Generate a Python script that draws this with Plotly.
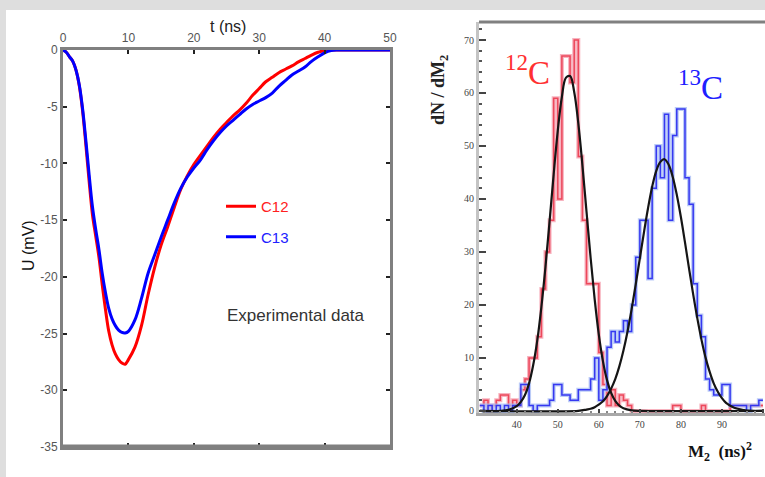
import plotly.graph_objects as go

# ---------------- Left panel data: signal shapes ----------------
t_c12 = [0, 0.5, 1, 1.5, 2, 2.5, 3, 3.5, 4, 4.5, 5, 5.5, 6, 6.5, 7, 7.5, 8, 8.5, 9, 9.5,
         10, 11, 12, 13, 14, 15, 16, 17, 18, 19, 20, 21, 22, 23, 24, 25, 26, 27, 28, 29,
         30, 31, 32, 33, 34, 35, 36, 37, 38, 39, 40, 41, 45, 50]
u_c12 = [0, -0.2, -0.6, -1.0, -1.8, -3.2, -5.4, -8.4, -11.6, -14.5, -16.4, -18.3, -20.7, -22.9, -24.8, -26.0, -26.8, -27.3, -27.6, -27.7,
         -27.3, -26.2, -24.3, -21.6, -19.2, -17.2, -15.6, -13.9, -12.3, -11.1, -10.1, -9.3, -8.5, -7.7, -7.0, -6.4, -5.8, -5.3, -4.7, -4.0,
         -3.4, -2.8, -2.4, -2.0, -1.7, -1.4, -1.05, -0.75, -0.45, -0.2, -0.05, 0, 0, 0]

t_c13 = [0, 0.5, 1, 1.5, 2, 2.5, 3, 3.5, 4, 4.5, 5, 5.5, 6, 6.5, 7, 7.5, 8, 8.5, 9, 9.5,
         10, 11, 12, 13, 14, 15, 16, 17, 18, 19, 20, 21, 22, 23, 24, 25, 26, 27, 28, 29,
         30, 31, 32, 33, 34, 35, 36, 37, 38, 39, 40, 41, 42, 45, 50]
u_c13 = [0, -0.2, -0.6, -1.0, -1.8, -3.1, -5.2, -8.0, -11.0, -13.8, -15.8, -17.6, -19.7, -21.4, -22.8, -23.7, -24.3, -24.7, -24.9, -24.95,
         -24.8, -23.8, -21.9, -19.7, -18.1, -16.5, -15.0, -13.5, -12.2, -11.2, -10.4, -9.7, -8.8, -8.0, -7.3, -6.7, -6.2, -5.7, -5.2, -4.8,
         -4.5, -4.2, -3.8, -3.2, -2.7, -2.2, -1.85, -1.5, -1.0, -0.6, -0.25, -0.05, 0, 0, 0]

t_ticks = [0, 10, 20, 30, 40, 50]
u_ticks = [0, -5, -10, -15, -20, -25, -30, -35]

# ---------------- Right panel data: histograms (bin width 1, bins 31..99) ----------------
bin_left = list(range(31, 100))
hist_12c = [1, 2, 0, 1, 2, 3, 3, 1, 2, 1,
            4, 6, 10, 10, 14, 23, 30, 36, 59, 40,
            67, 67, 62, 70, 48, 36, 24, 24, 24, 11,
            5, 1, 4, 1, 3, 2, 1, 0, 0, 0,
            0, 0, 0, 0, 0, 0, 0, 1, 1, 0,
            0, 0, 0, 0, 1, 0, 0, 0, 0, 0,
            0, 1, 1, 1, 1, 1, 1, 1, 1]
hist_13c = [1, 0, 1, 0, 1, 0, 1, 0, 1, 1,
            5, 5, 1, 0, 1, 1, 1, 2, 5, 5,
            3, 3, 2, 2, 4, 4, 4, 6, 10, 2,
            4, 12, 15, 13, 15, 17, 15, 20, 29, 36,
            36, 25, 42, 50, 44, 56, 36, 52, 57, 57,
            44, 39, 24, 18, 14, 6, 4, 3, 3, 5,
            5, 1, 1, 1, 1, 0, 1, 1, 2]

# fitted curves
fit12_x = [31, 36, 38, 40, 41, 42, 43, 44, 45, 46, 47, 48, 49, 50, 51, 52, 53, 54, 55, 56,
           57, 58, 59, 60, 61, 62, 63, 64, 65, 66, 68, 70, 100]
fit12_y = [0, 0, 0.2, 0.9, 1.7, 3.0, 5.2, 8.6, 13.3, 19.6, 27.2, 35.8, 44.7, 52.9, 59.3, 62.9, 63.2, 60.2, 54.3, 46.4,
           37.6, 28.9, 21.0, 14.4, 9.4, 5.8, 3.4, 1.9, 1.0, 0.5, 0.1, 0, 0]
fit13_x = [31, 55, 57, 58, 59, 60, 61, 62, 63, 64, 65, 66, 67, 68, 69, 70, 71, 72, 73, 74, 75, 76,
           77, 78, 79, 80, 81, 82, 83, 84, 85, 86, 87, 88, 89, 90, 91, 92, 93, 95, 97, 100]
fit13_y = [0, 0, 0.25, 0.4, 0.7, 1.2, 1.8, 2.8, 4.2, 6.0, 8.4, 11.4, 15.0, 19.2, 23.9, 28.8, 33.7, 38.3, 42.3, 45.3, 47.0, 47.5,
           46.5, 44.2, 40.8, 36.6, 31.8, 26.8, 22.0, 17.5, 13.5, 10.1, 7.4, 5.2, 3.6, 2.4, 1.5, 1.0, 0.6, 0.2, 0, 0]

m2_ticks = [40, 50, 60, 70, 80, 90, 100]
n_ticks = [0, 10, 20, 30, 40, 50, 60, 70]

W, H = 765, 477
NARROW = "Liberation Sans Narrow, Arial Narrow, Liberation Sans, sans-serif"
SERIF = "Liberation Serif, Times New Roman, serif"

fig = go.Figure()

# left panel curves
fig.add_trace(go.Scatter(x=t_c12, y=u_c12, mode="lines", line=dict(color="#ff0000", width=3, shape="spline"),
                         name="<span style='color:#ff2020'>C12</span>", legendgroup="a", xaxis="x", yaxis="y"))
fig.add_trace(go.Scatter(x=t_c13, y=u_c13, mode="lines", line=dict(color="#0000ff", width=3, shape="spline"),
                         name="<span style='color:#2020ff'>C13</span>", legendgroup="b", xaxis="x", yaxis="y"))

# right panel histograms (step outlines)
hx = bin_left + [bin_left[-1] + 1]
h12 = hist_12c + [hist_12c[-1]]
h13 = hist_13c + [hist_13c[-1]]
fig.add_trace(go.Scatter(x=hx, y=h12, mode="lines", line=dict(color="rgba(245,160,175,0.8)", width=4, shape="hv"),
                         showlegend=False, xaxis="x2", yaxis="y2"))
fig.add_trace(go.Scatter(x=hx, y=h12, mode="lines", line=dict(color="rgba(235,60,80,0.9)", width=1.5, shape="hv"),
                         showlegend=False, xaxis="x2", yaxis="y2"))
fig.add_trace(go.Scatter(x=hx, y=h13, mode="lines", line=dict(color="rgba(170,190,245,0.8)", width=4, shape="hv"),
                         showlegend=False, xaxis="x2", yaxis="y2"))
fig.add_trace(go.Scatter(x=hx, y=h13, mode="lines", line=dict(color="rgba(40,40,240,0.9)", width=1.5, shape="hv"),
                         showlegend=False, xaxis="x2", yaxis="y2"))
fig.add_trace(go.Scatter(x=fit12_x, y=fit12_y, mode="lines", line=dict(color="#151515", width=2.2, shape="spline"),
                         showlegend=False, xaxis="x2", yaxis="y2"))
fig.add_trace(go.Scatter(x=fit13_x, y=fit13_y, mode="lines", line=dict(color="#151515", width=2.2, shape="spline"),
                         showlegend=False, xaxis="x2", yaxis="y2"))

def px_x(p):
    return p / W

def px_y(p):
    return 1 - p / H

shapes = [
    # gray strips at top and left edge
    dict(type="rect", xref="paper", yref="paper", x0=0, x1=1, y0=px_y(10), y1=1,
         fillcolor="#dedede", line=dict(width=0), layer="below"),
    dict(type="rect", xref="paper", yref="paper", x0=0, x1=px_x(6), y0=0, y1=1,
         fillcolor="#dedede", line=dict(width=0), layer="below"),
    # thicker bottom frame of left panel
    dict(type="line", xref="x domain", yref="y domain", x0=0, x1=1, y0=0, y1=0,
         line=dict(color="#808080", width=5)),
    # right panel top frame
    dict(type="line", xref="x2 domain", yref="y2 domain", x0=0, x1=1, y0=1, y1=1,
         line=dict(color="#808080", width=3)),
]

annotations = [
    dict(text="t (ns)", xref="paper", yref="paper", x=px_x(228), y=px_y(27), xanchor="center", yanchor="middle",
         showarrow=False, font=dict(family=NARROW, size=16, color="#222222")),
    dict(text="U (mV)", xref="paper", yref="paper", x=px_x(29), y=px_y(245), xanchor="center", yanchor="middle",
         showarrow=False, textangle=-90, font=dict(family=NARROW, size=16, color="#111111")),
    dict(text="Experimental data", xref="paper", yref="paper", x=px_x(225), y=px_y(315), xanchor="left",
         yanchor="middle", showarrow=False, font=dict(family=NARROW, size=17, color="#333333")),
    dict(text="<sup>12</sup>C", xref="paper", yref="paper", x=px_x(503), y=px_y(70), xanchor="left",
         yanchor="middle", showarrow=False, font=dict(family=SERIF, size=33, color="#ff3030")),
    dict(text="<sup>13</sup>C", xref="paper", yref="paper", x=px_x(676), y=px_y(85), xanchor="left",
         yanchor="middle", showarrow=False, font=dict(family=SERIF, size=33, color="#2020ff")),
    dict(text="<b>dN / dM<sub>2</sub></b>", xref="paper", yref="paper", x=px_x(440), y=px_y(90),
         xanchor="center", yanchor="middle", showarrow=False, textangle=-90,
         font=dict(family=SERIF, size=18, color="#222222")),
    dict(text="<b>M<sub>2</sub>  (ns)<sup>2</sup></b>", xref="paper", yref="paper", x=px_x(720), y=px_y(451),
         xanchor="center", yanchor="middle", showarrow=False, font=dict(family=SERIF, size=17, color="#111111")),
]

fig.update_layout(
    width=W, height=H,
    margin=dict(l=0, r=0, t=0, b=0, pad=0),
    paper_bgcolor="white", plot_bgcolor="white",
    template="none",
    shapes=shapes, annotations=annotations,
    legend=dict(x=px_x(221), y=px_y(190), xanchor="left", yanchor="top",
                bgcolor="rgba(0,0,0,0)", font=dict(family=NARROW, size=15),
                tracegroupgap=8, traceorder="grouped", itemwidth=30),
    showlegend=True,
    xaxis=dict(domain=[px_x(63), px_x(390)], range=[0, 50], side="top", anchor="y",
               tickvals=t_ticks, ticktext=[str(v) for v in t_ticks],
               ticks="inside", ticklen=4, tickwidth=2, tickcolor="#222222",
               showline=True, linecolor="#808080", linewidth=3, mirror="ticks",
               showgrid=False, zeroline=False, automargin=False,
               tickfont=dict(family=NARROW, size=12, color="#555555")),
    yaxis=dict(domain=[px_y(447), px_y(50)], range=[-35, 0], anchor="x",
               tickvals=u_ticks, ticktext=[str(v) for v in u_ticks],
               ticks="inside", ticklen=4, tickwidth=2, tickcolor="#222222",
               showline=True, linecolor="#808080", linewidth=3, mirror="ticks",
               showgrid=False, zeroline=False, automargin=False,
               tickfont=dict(family=NARROW, size=12, color="#555555")),
    xaxis2=dict(domain=[px_x(479), 1.0], range=[30.8, 100.5], anchor="y2",
                tickvals=m2_ticks, ticks="inside", ticklen=4, tickwidth=1.5, tickcolor="#444444",
                showline=True, linecolor="#a8a8a8", linewidth=3,
                minor=dict(dtick=2, ticks="inside", ticklen=2, tickcolor="#888888"),
                showgrid=False, zeroline=False, automargin=False,
                tickfont=dict(family=SERIF, size=10, color="#444444")),
    yaxis2=dict(domain=[px_y(413), px_y(22)], range=[-0.4, 73.4], anchor="x2",
                tickvals=n_ticks, ticks="inside", ticklen=7, tickwidth=1.5, tickcolor="#444444",
                showline=True, linecolor="#c4c4c4", linewidth=3,
                minor=dict(tickvals=list(range(2, 74, 2)), ticks="inside", ticklen=3, tickcolor="#555555"),
                showgrid=False, zeroline=False, automargin=False,
                tickfont=dict(family=SERIF, size=10, color="#444444")),
)

fig.write_html("out.html", config={"displayModeBar": False},
               post_script="document.body.style.margin='0';document.body.style.padding='0';")
